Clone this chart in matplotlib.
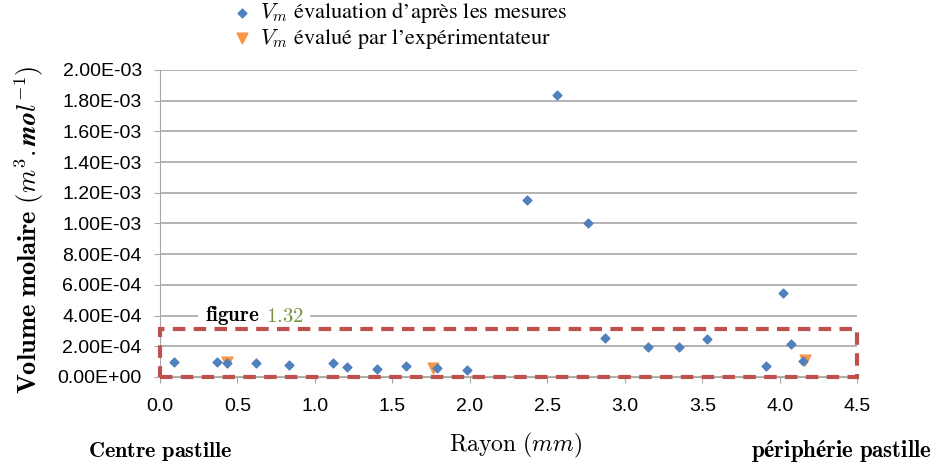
"""Volume molaire en fonction du rayon de la pastille."""

import matplotlib
matplotlib.use("Agg")
import matplotlib.pyplot as plt
from matplotlib.patches import Rectangle
from matplotlib.ticker import FuncFormatter, MultipleLocator

plt.rcParams["mathtext.fontset"] = "cm"

# Mesures (rayon en mm, volume molaire en m3/mol)
rayon_mesures = [0.09, 0.37, 0.43, 0.62, 0.83, 1.12, 1.21, 1.40, 1.59, 1.79, 1.98,
                 2.37, 2.56, 2.76, 2.87, 3.15, 3.35, 3.53, 3.91, 4.02, 4.07, 4.15]
vm_mesures = [0.95e-4, 0.97e-4, 0.90e-4, 0.92e-4, 0.76e-4, 0.88e-4, 0.68e-4,
              0.55e-4, 0.70e-4, 0.57e-4, 0.47e-4, 11.55e-4, 18.37e-4, 10.0e-4,
              2.55e-4, 1.97e-4, 1.97e-4, 2.45e-4, 0.70e-4, 5.44e-4, 2.13e-4, 1.03e-4]

# Valeurs de l'experimentateur
rayon_exp = [0.43, 1.76, 4.16]
vm_exp = [0.97e-4, 0.60e-4, 1.12e-4]

# Zone zoomee dans la figure 1.32
zone_x = [0.0, 4.5]
zone_y = [0.0, 3.1e-4]

fig = plt.figure(figsize=(9.35, 4.66), dpi=100)
ax = fig.add_axes([0.171, 0.191, 0.746, 0.659])

ax.scatter(rayon_mesures, vm_mesures, marker="D", s=20, color="#4F81BD",
           zorder=3, label=r"$V_m$ évaluation d’après les mesures")
ax.scatter(rayon_exp, vm_exp, marker="v", s=60, color="#F79646",
           zorder=2, label=r"$V_m$ évalué par l’expérimentateur")

ax.set_xlim(0, 4.5)
ax.set_ylim(0, 2e-3)
ax.xaxis.set_major_locator(MultipleLocator(0.5))
ax.yaxis.set_major_locator(MultipleLocator(2e-4))
ax.xaxis.set_major_formatter(FuncFormatter(lambda v, p: f"{v:.1f}"))
ax.yaxis.set_major_formatter(FuncFormatter(lambda v, p: f"{v:.2E}"))

ax.grid(axis="y", color="#A6A6A6", linewidth=1.2)
ax.set_axisbelow(True)
for s in ["top", "right"]:
    ax.spines[s].set_visible(False)
ax.spines["left"].set_color("#A6A6A6")
ax.spines["bottom"].set_color("#A6A6A6")
ax.tick_params(axis="both", labelsize=14, colors="#A6A6A6", labelcolor="black", length=4)
ax.tick_params(axis="x", pad=11)
ax.tick_params(axis="y", pad=9)
for lab in ax.get_xticklabels() + ax.get_yticklabels():
    lab.set_fontfamily("Liberation Sans")

ax.set_xlabel(r"$\mathrm{Rayon}\ (mm)$", fontsize=17)
ax.xaxis.set_label_coords(0.51, -0.175)
ax.set_ylabel(r"$\mathbf{Volume\ molaire}\ (\boldsymbol{m^3.mol^{-1}})$", fontsize=19)
ax.yaxis.set_label_coords(-0.163, 0.48)

# Cadre rouge en pointilles
rect = Rectangle((zone_x[0], zone_y[0]), zone_x[1] - zone_x[0], zone_y[1] - zone_y[0],
                 fill=False, edgecolor="#C0504D", linewidth=3, linestyle=(0, (3, 2)),
                 clip_on=False, zorder=4)
ax.add_patch(rect)

ax.text(0.29, 4.0e-4, r"$\mathbf{figure}$", fontsize=15, ha="left", va="center",
        bbox=dict(facecolor="white", edgecolor="none", pad=5))
ax.text(0.685, 4.0e-4, r"$\mathbf{1.32}$", fontsize=15, color="#76923C", ha="left",
        va="center", bbox=dict(facecolor="white", edgecolor="none", pad=4))

ax.legend(loc="upper left", bbox_to_anchor=(0.245, 0.999), bbox_transform=fig.transFigure,
          frameon=False, handletextpad=0.2, labelspacing=0.05,
          borderaxespad=0, borderpad=0, handlelength=1.2,
          prop={"family": "STIXGeneral", "size": 16})

fig.text(0.094, 0.02, r"$\mathbf{Centre\ pastille}$", fontsize=16)
fig.text(0.997, 0.02, r"$\mathbf{périphérie\ pastille}$", fontsize=16.5, ha="right")

plt.savefig("out.png", dpi=100)
